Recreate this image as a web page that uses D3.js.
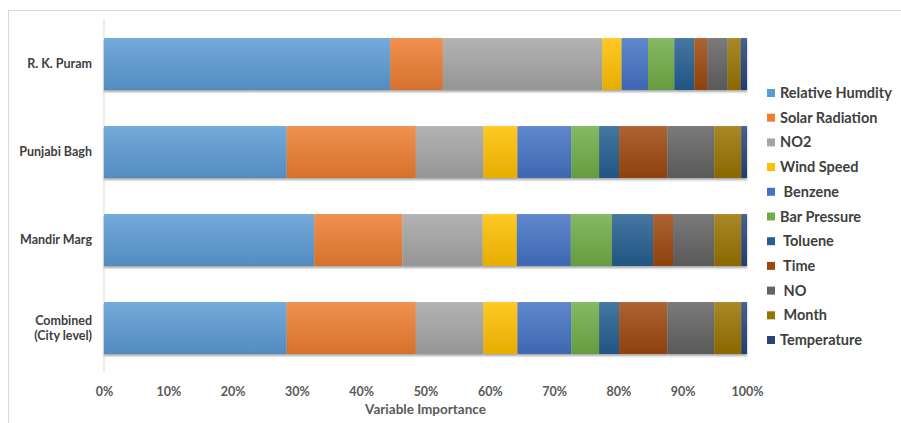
<!DOCTYPE html>
<html>
<head>
<meta charset="utf-8">
<script src="https://cdn.jsdelivr.net/npm/d3@7"></script>
<style>
  html, body { margin: 0; padding: 0; background: #fff; }
  svg { display: block; font-family: Lato, "Open Sans", sans-serif; }
  .leg text { white-space: pre; }
</style>
</head>
<body>
<svg id="chart" width="901" height="423"></svg>
<script>
// Monitoring sites (top to bottom)
const sites = ["R. K. Puram", "Punjabi Bagh", "Mandir Marg", "Combined\n(City level)"];

// Variables, in stacking order
const variables = ["Relative Humdity", "Solar Radiation", "NO2", "Wind Speed", " Benzene",
  "Bar Pressure", " Toluene", " Time", " NO", " Month", "Temperature"];

// Variable importance (%) per site, same order as variables
const rkPuram      = [44.5, 8.2, 24.8, 3.0, 4.1, 4.1, 3.1, 2.0, 3.2, 2.0, 1.0];
const punjabiBagh  = [28.4, 20.1, 10.5, 5.3, 8.4, 4.3, 3.1, 7.5, 7.3, 4.2, 0.9];
const mandirMarg   = [32.7, 13.7, 12.5, 5.3, 8.4, 6.4, 6.4, 3.1, 6.4, 4.2, 0.9];
const combined     = [28.4, 20.1, 10.5, 5.3, 8.4, 4.3, 3.1, 7.5, 7.3, 4.2, 0.9];

const tickValues = [0, 0.1, 0.2, 0.3, 0.4, 0.5, 0.6, 0.7, 0.8, 0.9, 1.0];

const colors = ["#5B9BD5", "#ED7D31", "#A5A5A5", "#FFC000", "#4472C4", "#70AD47",
  "#255E91", "#9E480E", "#636363", "#997300", "#264478"];

const siteValues = [rkPuram, punjabiBagh, mandirMarg, combined];

// Normalise each site's row to shares of 100%
const rows = sites.map((s, i) => {
  const vals = siteValues[i];
  const total = d3.sum(vals);
  const row = { site: s };
  variables.forEach((v, j) => { row[v] = vals[j] / total; });
  return row;
});
const series = d3.stack().keys(variables)(rows);

const svg = d3.select("#chart");
const defs = svg.append("defs");

// Soft shadow under bars
const f = defs.append("filter").attr("id", "shadow")
  .attr("x", "-5%").attr("y", "-20%").attr("width", "110%").attr("height", "150%");
f.append("feDropShadow").attr("dx", 0).attr("dy", 2).attr("stdDeviation", 1.2)
  .attr("flood-color", "#000").attr("flood-opacity", 0.35);

// Vertical gradient for each colour (light top, darker bottom)
colors.forEach((c, i) => {
  const g = defs.append("linearGradient").attr("id", "grad" + i)
    .attr("x1", 0).attr("y1", 0).attr("x2", 0).attr("y2", 1);
  g.append("stop").attr("offset", "0%").attr("stop-color", d3.interpolateRgb(c, "#fff")(0.15));
  g.append("stop").attr("offset", "100%").attr("stop-color", d3.interpolateRgb(c, "#000")(0.1));
});

// Chart frame
svg.append("rect").attr("x", 8.5).attr("y", 10.5).attr("width", 1000).attr("height", 1000)
  .attr("fill", "none").attr("stroke", "#D9D9D9");

const x = d3.scaleLinear().domain([0, 1]).range([104, 747]);
const y = d3.scaleBand().domain(sites).range([20, 372]).paddingInner(0.41).paddingOuter(0.205);

// Category axis line
svg.append("line").attr("x1", 104).attr("x2", 104).attr("y1", 19).attr("y2", 372)
  .attr("stroke", "#D9D9D9");

// Stacked bars
const barsG = svg.append("g").attr("filter", "url(#shadow)");
barsG.selectAll("g.series").data(series).join("g")
  .attr("class", "series")
  .attr("fill", (d, i) => `url(#grad${i})`)
  .selectAll("rect").data(d => d).join("rect")
  .attr("x", d => x(d[0]))
  .attr("width", d => x(d[1]) - x(d[0]))
  .attr("y", d => y(d.data.site))
  .attr("height", y.bandwidth());

// X axis tick labels
const xAxis = d3.axisBottom(x).tickValues(tickValues).tickFormat(d3.format(".0%")).tickSize(0).tickPadding(0);
const xg = svg.append("g").attr("transform", "translate(0,396)").call(xAxis);
xg.select(".domain").remove();
xg.selectAll("text").attr("font-size", 12.5).attr("font-weight", "bold")
  .attr("fill", "#595959").attr("font-family", "Lato, sans-serif").attr("dy", 0);

// X axis title
svg.append("text").attr("x", x(0.5)).attr("y", 414).attr("text-anchor", "middle")
  .attr("font-size", 13.5).attr("font-weight", "bold").attr("fill", "#595959")
  .text("Variable Importance");

// Site labels
const yAxis = d3.axisLeft(y).tickSize(0).tickPadding(12).tickFormat(() => "");
const yg = svg.append("g").attr("transform", "translate(104,0)").call(yAxis);
yg.select(".domain").remove();
yg.selectAll(".tick").each(function(d) {
  const lines = d.split("\n");
  const t = d3.select(this).append("text")
    .attr("x", -12).attr("text-anchor", "end")
    .attr("font-size", 12.5).attr("font-weight", "bold").attr("fill", "#404040")
    .attr("font-family", "Lato, sans-serif");
  lines.forEach((ln, k) => {
    t.append("tspan").attr("x", -12)
      .attr("dy", k === 0 ? (0.35 - (lines.length - 1) * 0.6) + "em" : "1.2em")
      .text(ln);
  });
});

// Legend
const leg = svg.append("g").attr("class", "leg");
const legY = d3.scalePoint().domain(variables).range([93, 340]);
const items = leg.selectAll("g").data(variables).join("g")
  .attr("transform", d => `translate(767,${legY(d)})`);
items.append("rect").attr("x", 0).attr("y", -4).attr("width", 8).attr("height", 8)
  .attr("fill", (d, i) => colors[i]);
items.append("text").attr("x", 13).attr("y", 0).attr("dy", "0.35em")
  .attr("font-size", 14.5).attr("font-weight", "bold").attr("fill", "#404040")
  .text(d => d);
</script>
</body>
</html>
